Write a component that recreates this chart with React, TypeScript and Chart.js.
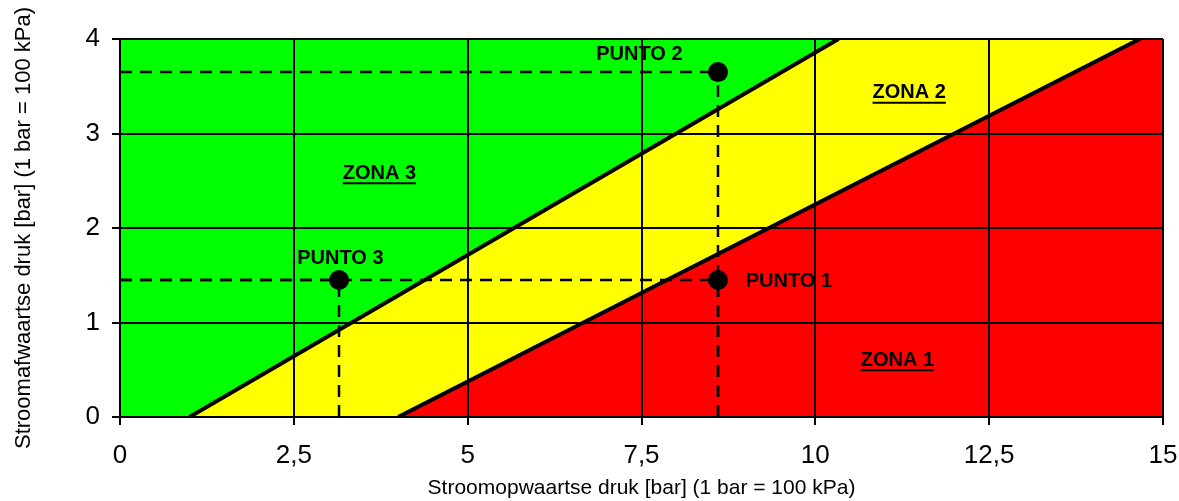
import React, { useEffect, useRef } from 'react';
import { Chart, registerables } from 'chart.js';

Chart.register(...registerables);

const X_MIN = 0;
const X_MAX = 15;
const Y_MIN = 0;
const Y_MAX = 4;

const xTicks = [0, 2.5, 5, 7.5, 10, 12.5, 15];
const xTickLabels = ['0', '2,5', '5', '7,5', '10', '12,5', '15'];
const yTicks = [0, 1, 2, 3, 4];
const yTickLabels = ['0', '1', '2', '3', '4'];

// zone boundary lines (x at bottom, x at top)
const greenYellowX = [1, 10.333];
const greenYellowY = [0, 4];
const yellowRedX = [4, 14.667];
const yellowRedY = [0, 4];

// operating points
const pointNames = ['PUNTO 1', 'PUNTO 2', 'PUNTO 3'];
const pointX = [8.6, 8.6, 3.15];
const pointY = [1.45, 3.65, 1.45];
const pointLabelX = [9.62, 7.47, 3.17];
const pointLabelY = [1.43, 3.84, 1.68];

// zone labels
const zoneNames = ['ZONA 1', 'ZONA 2', 'ZONA 3'];
const zoneLabelX = [11.18, 11.35, 3.73];
const zoneLabelY = [0.6, 3.43, 2.58];

const FONT = '"Liberation Sans", Arial, sans-serif';

const labelPlugin = {
  id: 'labelPlugin',
  afterDatasetsDraw(chart: any) {
    const { ctx, scales } = chart;
    const xs = scales.x;
    const ys = scales.y;
    ctx.save();
    ctx.fillStyle = '#000';
    ctx.strokeStyle = '#000';
    ctx.textAlign = 'center';
    ctx.textBaseline = 'middle';
    ctx.font = `bold 20px ${FONT}`;
    pointNames.forEach((name, i) => {
      ctx.fillText(name, xs.getPixelForValue(pointLabelX[i]), ys.getPixelForValue(pointLabelY[i]));
    });
    zoneNames.forEach((name, i) => {
      const px = xs.getPixelForValue(zoneLabelX[i]);
      const py = ys.getPixelForValue(zoneLabelY[i]);
      ctx.fillText(name, px, py);
      const w = ctx.measureText(name).width;
      ctx.lineWidth = 2;
      ctx.beginPath();
      ctx.moveTo(px - w / 2, py + 10);
      ctx.lineTo(px + w / 2, py + 10);
      ctx.stroke();
    });
    ctx.restore();
  },
};

export default function App() {
  const ref = useRef<HTMLCanvasElement | null>(null);

  useEffect(() => {
    if (!ref.current) return;
    Chart.defaults.font.family = FONT;
    Chart.defaults.color = '#000';

    const fillBase = {
      type: 'line' as const,
      borderWidth: 0,
      pointRadius: 0,
      fill: 'start',
    };

    const datasets: any[] = [
      {
        ...fillBase,
        order: 3,
        data: [
          { x: X_MIN, y: Y_MAX },
          { x: X_MAX, y: Y_MAX },
        ],
        backgroundColor: '#00FF00',
      },
      {
        ...fillBase,
        order: 2,
        data: [
          { x: greenYellowX[0], y: greenYellowY[0] },
          { x: greenYellowX[1], y: greenYellowY[1] },
          { x: X_MAX, y: Y_MAX },
        ],
        backgroundColor: '#FFFF00',
      },
      {
        ...fillBase,
        order: 1,
        data: [
          { x: yellowRedX[0], y: yellowRedY[0] },
          { x: yellowRedX[1], y: yellowRedY[1] },
          { x: X_MAX, y: Y_MAX },
        ],
        backgroundColor: '#FF0000',
      },
      {
        type: 'line',
        order: 0,
        data: greenYellowX.map((x, i) => ({ x, y: greenYellowY[i] })),
        borderColor: '#000',
        borderWidth: 4,
        pointRadius: 0,
        fill: false,
      },
      {
        type: 'line',
        order: 0,
        data: yellowRedX.map((x, i) => ({ x, y: yellowRedY[i] })),
        borderColor: '#000',
        borderWidth: 4,
        pointRadius: 0,
        fill: false,
      },
    ];

    pointX.forEach((px, i) => {
      datasets.push({
        type: 'line',
        order: 0,
        data: [
          { x: X_MIN, y: pointY[i] },
          { x: px, y: pointY[i] },
        ],
        borderColor: '#000',
        borderWidth: 2.5,
        borderDash: [12, 8],
        pointRadius: 0,
        fill: false,
      });
      datasets.push({
        type: 'line',
        order: 0,
        data: [
          { x: px, y: Y_MIN },
          { x: px, y: pointY[i] },
        ],
        borderColor: '#000',
        borderWidth: 2.5,
        borderDash: [12, 8],
        pointRadius: 0,
        fill: false,
      });
    });

    datasets.push({
      type: 'line',
      order: -1,
      data: pointX.map((x, i) => ({ x, y: pointY[i] })),
      showLine: false,
      pointRadius: 10,
      pointBackgroundColor: '#000',
      pointBorderColor: '#000',
      pointBorderWidth: 0,
      fill: false,
    });

    const chart = new Chart(ref.current, {
      type: 'line',
      data: { datasets },
      options: {
        animation: false,
        responsive: false,
        layout: { padding: { top: 39, right: 16, left: 0, bottom: 0 } },
        plugins: {
          legend: { display: false },
          tooltip: { enabled: false },
          filler: { drawTime: 'beforeDraw' },
        } as any,
        scales: {
          x: {
            type: 'linear',
            min: X_MIN,
            max: X_MAX,
            afterBuildTicks: (axis: any) => {
              axis.ticks = xTicks.map((v) => ({ value: v }));
            },
            afterFit: (axis: any) => {
              axis.height = 84;
              axis.paddingRight = 0;
              axis.paddingLeft = 0;
            },
            ticks: {
              autoSkip: false,
              maxRotation: 0,
              padding: 15,
              font: { size: 26 },
              color: '#000',
              callback: (v: any) => {
                const i = xTicks.indexOf(Number(v));
                return i >= 0 ? xTickLabels[i] : '';
              },
            },
            grid: {
              color: '#000',
              lineWidth: 2,
              tickLength: 8,
              tickColor: '#000',
              tickWidth: 2,
            },
            border: { color: '#000', width: 2 },
            title: {
              display: true,
              text: 'Stroomopwaartse druk [bar] (1 bar = 100 kPa)',
              font: { size: 21 },
              color: '#000',
              padding: { top: 0, bottom: 0 },
            },
          },
          y: {
            type: 'linear',
            min: Y_MIN,
            max: Y_MAX,
            afterBuildTicks: (axis: any) => {
              axis.ticks = yTicks.map((v) => ({ value: v }));
            },
            afterFit: (axis: any) => {
              axis.width = 120;
              axis.paddingTop = 0;
              axis.paddingBottom = 0;
            },
            ticks: {
              autoSkip: false,
              padding: 12,
              font: { size: 26 },
              color: '#000',
              callback: (v: any) => {
                const i = yTicks.indexOf(Number(v));
                return i >= 0 ? yTickLabels[i] : '';
              },
            },
            grid: {
              color: '#000',
              lineWidth: 2,
              tickLength: 8,
              tickColor: '#000',
              tickWidth: 2,
            },
            border: { color: '#000', width: 2 },
            title: {
              display: true,
              text: 'Stroomafwaartse druk [bar] (1 bar = 100 kPa)',
              font: { size: 22 },
              color: '#000',
              padding: { top: 11, bottom: 0 },
            },
          },
        },
      },
      plugins: [labelPlugin],
    });

    return () => chart.destroy();
  }, []);

  return (
    <div style={{ position: 'absolute', left: 0, top: 0, width: 1179, height: 501, background: '#fff' }}>
      <canvas ref={ref} width={1179} height={501} />
    </div>
  );
}
